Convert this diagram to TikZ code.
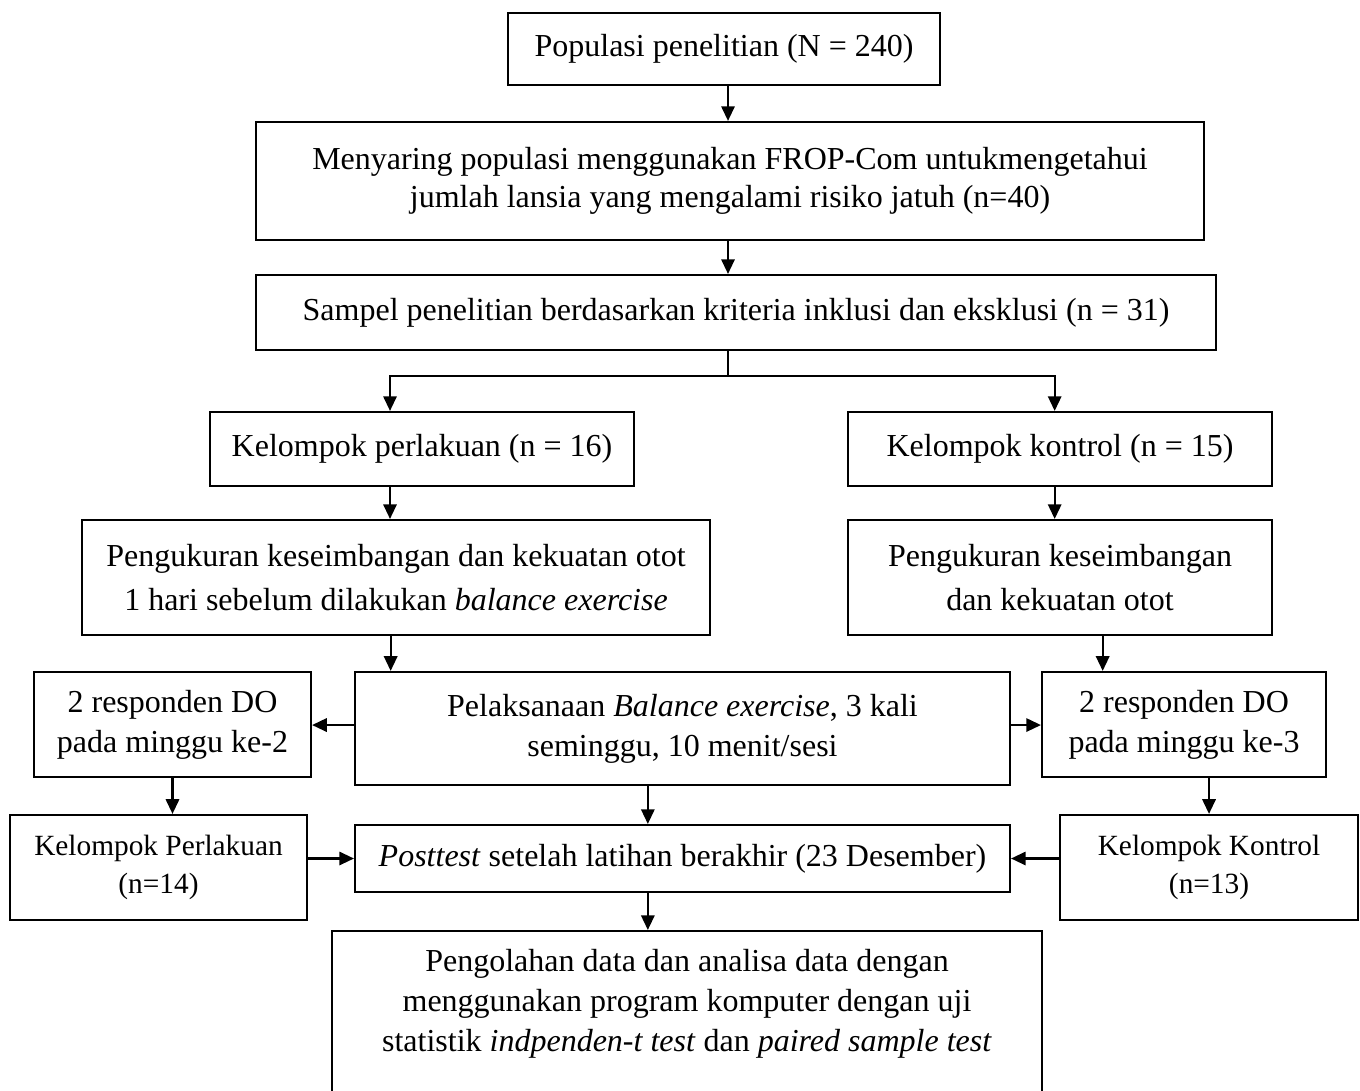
\documentclass[tikz,border=0pt]{standalone}
\usepackage{fontspec}
\setmainfont{Liberation Serif}
\usetikzlibrary{arrows.meta}

\tikzset{
	box/.style={draw, line width=0.8pt, align=center, inner sep=2pt,
		font=\fontsize{12}{15}\selectfont},
	arr/.style={line width=0.8pt, -{Triangle[length=5.5pt,width=5pt]}}
}

\begin{document}
\begin{tikzpicture}[x=0.375pt,y=-0.375pt]
		\useasboundingbox (0,0) rectangle (1360,1090);
		
		\node (pop) at (724,49) [box, minimum width=162pt, minimum height=27pt] {Populasi penelitian (N = 240)};
		\node (men) at (730,181) [box, minimum width=355.5pt, minimum height=44.25pt, font=\fontsize{12}{14}\selectfont] {Menyaring populasi menggunakan FROP-Com untukmengetahui\\jumlah lansia yang mengalami risiko jatuh (n=40)};
		\node (samp) at (736,312.5) [box, minimum width=360pt, minimum height=28.1pt] {Sampel penelitian berdasarkan kriteria inklusi dan eksklusi (n = 31)};
		\node (kp) at (422,449) [box, minimum width=159pt, minimum height=27.75pt] {Kelompok perlakuan (n = 16)};
		\node (kk) at (1060,449) [box, minimum width=159pt, minimum height=27.75pt] {Kelompok kontrol (n = 15)};
		\node (pengL) at (396,577.5) [box, minimum width=235.5pt, minimum height=43.1pt, font=\fontsize{12}{16.5}\selectfont] {Pengukuran keseimbangan dan kekuatan otot\\1 hari sebelum dilakukan \textit{balance exercise}};
		\node (pengR) at (1060,577.5) [box, minimum width=159pt, minimum height=43.1pt, font=\fontsize{12}{16.5}\selectfont] {Pengukuran keseimbangan\\dan kekuatan otot};
		\node (pelak) at (682.5,728.5) [box, minimum width=245.6pt, minimum height=42.4pt] {Pelaksanaan \textit{Balance exercise}, 3 kali\\seminggu, 10 menit/sesi};
		\node (dol) at (172.5,724.5) [box, minimum width=103.9pt, minimum height=39.4pt] {2 responden DO\\pada minggu ke-2};
		\node (dor) at (1184,724.5) [box, minimum width=106.5pt, minimum height=39.4pt] {2 responden DO\\pada minggu ke-3};
		\node (kpl) at (158.5,867.5) [box, minimum width=111.4pt, minimum height=39.4pt, font=\fontsize{11}{14.25}\selectfont] {Kelompok Perlakuan\\(n=14)};
		\node (post) at (682.5,858.5) [box, minimum width=245.6pt, minimum height=25.1pt] {\textit{Posttest} setelah latihan berakhir (23 Desember)};
		\node (kkr) at (1209,867.5) [box, minimum width=111.75pt, minimum height=39.4pt, font=\fontsize{11}{14.25}\selectfont] {Kelompok Kontrol\\(n=13)};
		\node (olah) at (687,930) [box, anchor=north, minimum width=266.25pt, inner ysep=7pt] {Pengolahan data dan analisa data dengan\\menggunakan program komputer dengan uji\\statistik \textit{indpenden-t test} dan \textit{paired sample test}\\ ~};
		
		\coordinate (split) at (728,376);
		
		\draw [arr] (pop.south -| split) -- (men.north -| split);
		\draw [arr] (men.south -| split) -- (samp.north -| split);
		\draw [line width=0.8pt] (samp.south -| split) -- (split);
		\draw [arr] (split) -| ([xshift=-12pt]kp.north);
		\draw [arr] (split) -| ([xshift=-2pt]kk.north);
		\draw [arr] ([xshift=-12pt]kp.south) -- ([xshift=-12pt]kp.south |- pengL.north);
		\draw [arr] ([xshift=-2pt]kk.south) -- ([xshift=-2pt]kk.south |- pengR.north);
		\draw [arr] ([xshift=-2pt]pengL.south) -- ([xshift=-2pt]pengL.south |- pelak.north);
		\draw [arr] ([xshift=16pt]pengR.south) -- ([xshift=16pt]pengR.south |- dor.north);
		\draw [arr] ([yshift=1.3pt]pelak.west) -- ([yshift=1.3pt]pelak.west -| dol.east);
		\draw [arr] ([yshift=1.3pt]pelak.east) -- ([yshift=1.3pt]pelak.east -| dor.west);
		\draw [arr] (dol.south) -- (dol.south |- kpl.north);
		\draw [arr] (kkr.north |- dor.south) -- (kkr.north);
		\draw [arr] ([xshift=-13pt]pelak.south) -- ([xshift=-13pt]pelak.south |- post.north);
		\draw [arr] (kpl.east |- post.west) -- (post.west);
		\draw [arr] (kkr.west |- post.east) -- (post.east);
		\draw [arr] ([xshift=-13pt]post.south) -- ([xshift=-13pt]post.south |- olah.north);
	\end{tikzpicture}
\end{document}
